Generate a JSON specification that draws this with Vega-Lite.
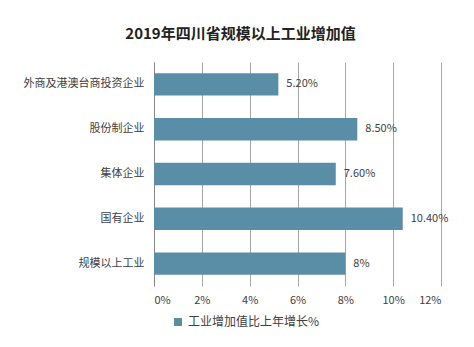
{
  "$schema": "https://vega.github.io/schema/vega-lite/v6.json",
  "autosize": {"type": "none"},
  "padding": {"left": 154, "top": 62, "right": 33, "bottom": 61},
  "width": 287,
  "height": 224,
  "background": "white",
  "title": {
    "text": "2019年四川省规模以上工业增加值",
    "font": "Noto Sans CJK SC",
    "fontSize": 15,
    "fontWeight": "bold",
    "color": "#222222",
    "anchor": "middle",
    "dx": -57,
    "offset": 20
  },
  "data": {
    "values": [
      {"category": "外商及港澳台商投资企业", "value": 5.2, "label": "5.20%", "series": "工业增加值比上年增长%"},
      {"category": "股份制企业", "value": 8.5, "label": "8.50%", "series": "工业增加值比上年增长%"},
      {"category": "集体企业", "value": 7.6, "label": "7.60%", "series": "工业增加值比上年增长%"},
      {"category": "国有企业", "value": 10.4, "label": "10.40%", "series": "工业增加值比上年增长%"},
      {"category": "规模以上工业", "value": 8, "label": "8%", "series": "工业增加值比上年增长%"}
    ]
  },
  "config": {
    "view": {"stroke": null},
    "font": "Noto Sans CJK SC"
  },
  "encoding": {
    "y": {
      "field": "category",
      "type": "nominal",
      "sort": null,
      "scale": {"paddingInner": 0.5, "paddingOuter": 0.25},
      "axis": {
        "title": null,
        "ticks": false,
        "domainColor": "#888888",
        "labelFont": "Noto Sans CJK SC",
        "labelFontSize": 11,
        "labelColor": "#404040",
        "labelPadding": 10
      }
    },
    "x": {
      "field": "value",
      "type": "quantitative",
      "scale": {"domain": [0, 12]},
      "axis": {
        "title": null,
        "values": [0, 2, 4, 6, 8, 10, 12],
        "labelExpr": "datum.value + '%'",
        "domain": false,
        "ticks": false,
        "grid": true,
        "gridColor": "#a6a6a6",
        "labelFont": "Noto Sans CJK SC",
        "labelFontSize": 11,
        "labelColor": "#404040",
        "labelPadding": 8
      }
    }
  },
  "layer": [
    {
      "mark": {"type": "bar", "color": "#5a8ea6"},
      "encoding": {
        "color": {
          "field": "series",
          "type": "nominal",
          "scale": {"range": ["#5a8ea6"]},
          "legend": {
            "title": null,
            "orient": "none",
            "legendX": 18,
            "legendY": 254,
            "symbolType": "square",
            "symbolSize": 64,
            "labelFont": "Noto Sans CJK SC",
            "labelFontSize": 12,
            "labelColor": "#404040",
            "labelOffset": 4
          }
        }
      }
    },
    {
      "mark": {"type": "text", "align": "left", "dx": 8, "fontSize": 11, "color": "#404040", "font": "Noto Sans CJK SC"},
      "encoding": {"text": {"field": "label"}}
    }
  ]
}
